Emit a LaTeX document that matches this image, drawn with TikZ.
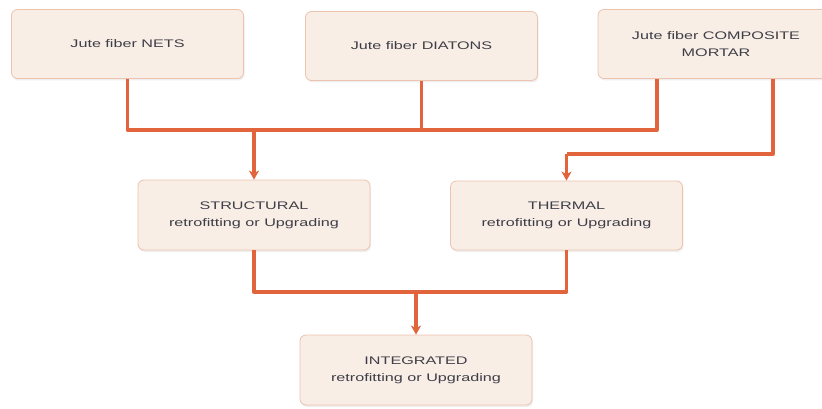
\documentclass[tikz,border=0pt]{standalone}
\usepackage{fontspec}
\setmainfont{Liberation Sans}[FakeStretch=1.47]
\usetikzlibrary{arrows.meta,shadows}
\definecolor{boxfill}{HTML}{F8EEE5}
\definecolor{boxline}{HTML}{EDC2AE}
\definecolor{conncol}{HTML}{E2643C}
\definecolor{txtcol}{HTML}{3E3E48}
\begin{document}
\begin{tikzpicture}[x=1pt,y=-1pt,
  box/.style={draw=boxline, line width=0.8pt, fill=boxfill, rounded corners=6pt,
    text=txtcol, align=center, font=\fontsize{11}{17}\selectfont,
    inner sep=0pt, minimum width=232pt, minimum height=69pt,
    drop shadow={shadow xshift=1pt, shadow yshift=-2pt, opacity=0.12}},
  conn/.style={draw=conncol, line width=3.3pt, line join=round},
  arr/.style={conn, -{Stealth[length=9pt,width=10pt,inset=2.5pt]}}]
\fill[white] (0,0) rectangle (822,409);
\useasboundingbox (0,0) rectangle (822,409);

\node[box] (b1) at (127.5,44) {Jute fiber NETS};
\node[box] (b2) at (421.5,46) {Jute fiber DIATONS};
\node[box, minimum width=236pt] (b3) at (716,44) {Jute fiber COMPOSITE\\MORTAR};
\node[box, minimum height=70pt] (s) at (254,215) {STRUCTURAL\\retrofitting or Upgrading};
\node[box] (t) at (566.5,215.5) {THERMAL\\retrofitting or Upgrading};
\node[box, minimum height=70pt] (i) at (416,370) {INTEGRATED\\retrofitting or Upgrading};

\coordinate (b3a) at ([xshift=-59pt]b3.south);
\coordinate (b3b) at ([xshift=57pt]b3.south);
\coordinate (hy) at (0,130);
\coordinate (hy2) at (0,154);
\coordinate (hy3) at (0,292);

\draw[conn] (b1.south) -- (b1.south |- hy) -- (b3a |- hy) -- (b3a);
\draw[conn] (b2.south) -- (b2.south |- hy);
\draw[arr] (s.north |- hy) -- (s.north);
\draw[conn] (b3b) -- (b3b |- hy2) -- (t.north |- hy2);
\draw[arr] (t.north |- hy2) -- (t.north);
\draw[conn] (s.south) -- (s.south |- hy3) -- (t.south |- hy3) -- (t.south);
\draw[arr] (i.north |- hy3) -- (i.north);
\end{tikzpicture}
\end{document}
